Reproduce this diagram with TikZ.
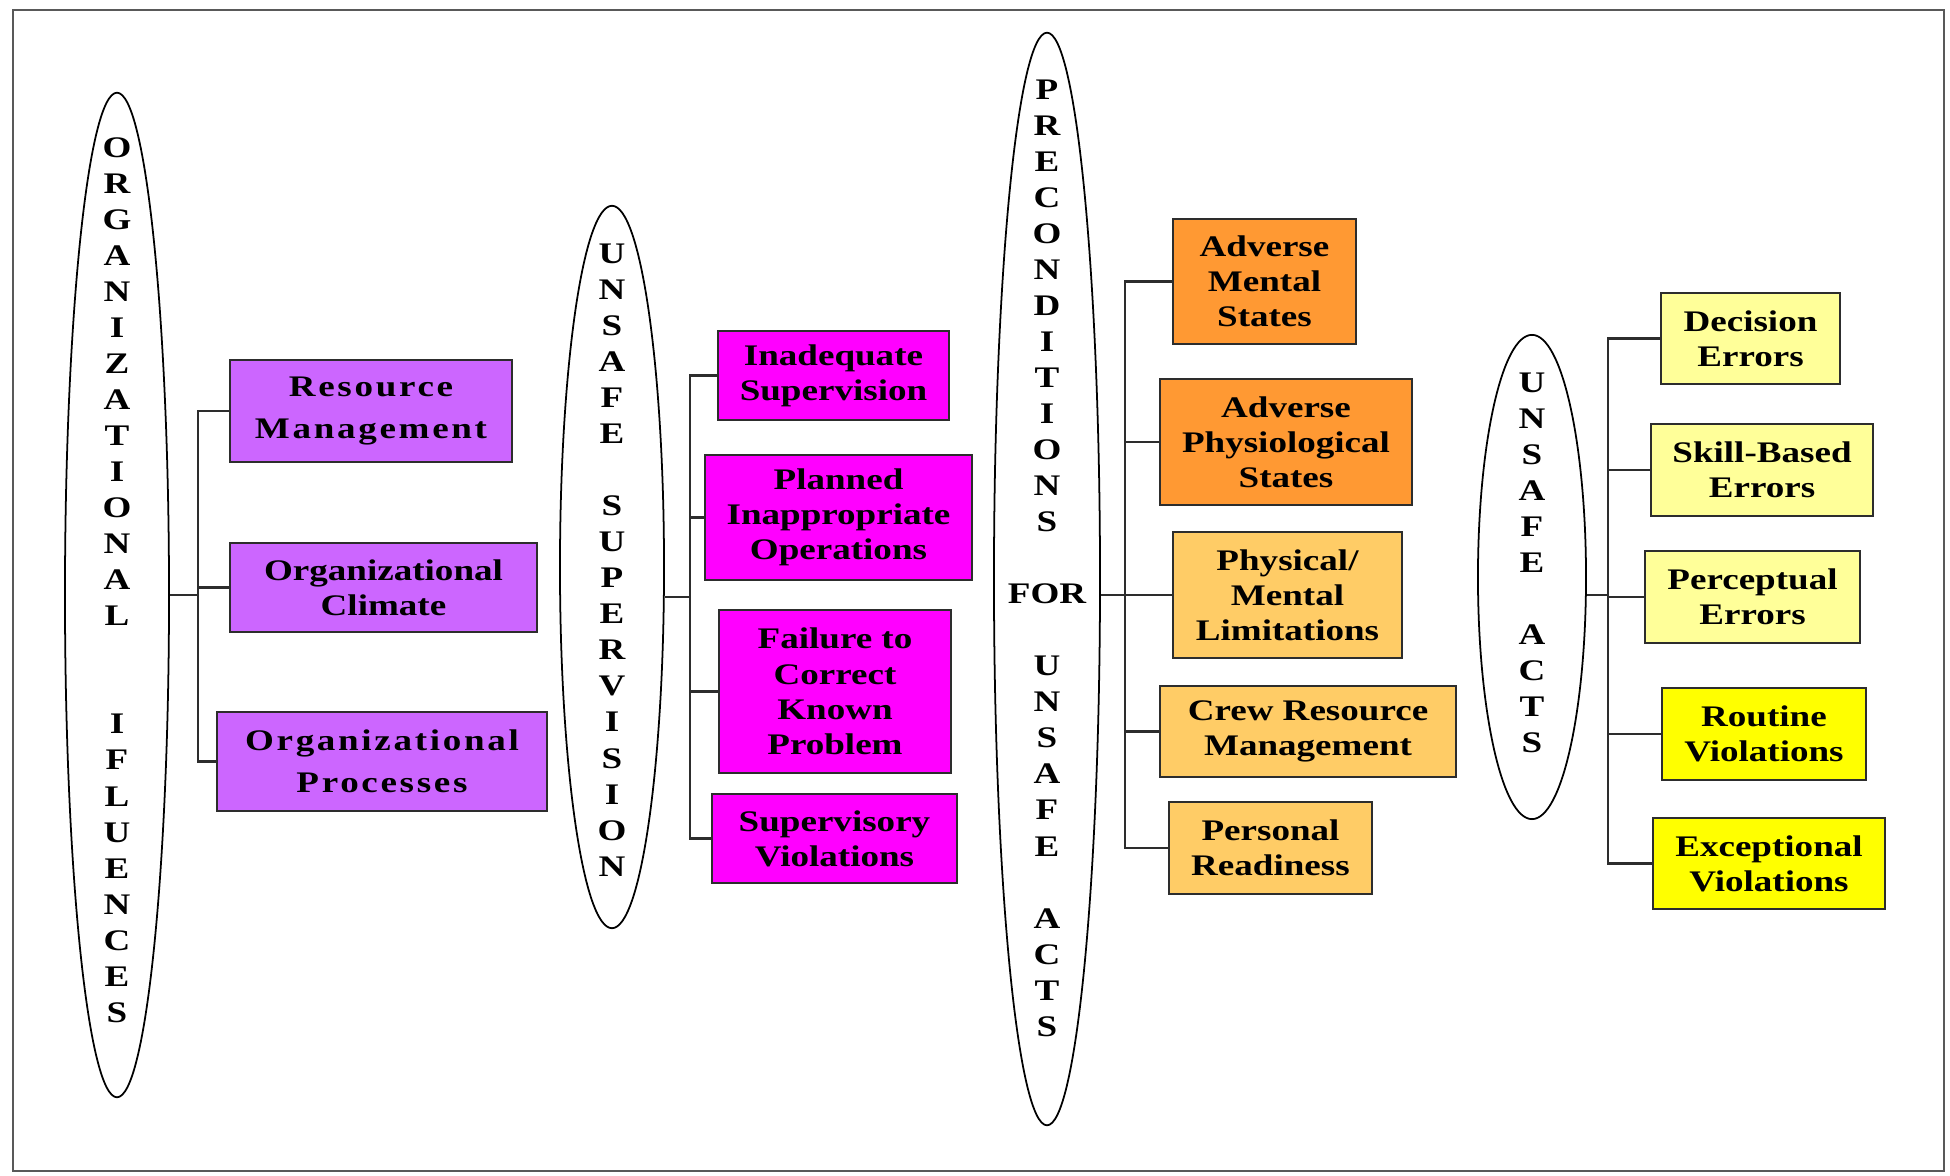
\documentclass[tikz,border=0pt]{standalone}
\usepackage{fontspec}
\setmainfont{Liberation Serif}[FakeStretch=1.24]
\usetikzlibrary{shapes.geometric}
\definecolor{orgPurple}{RGB}{204,102,255}
\definecolor{supMagenta}{RGB}{255,0,255}
\definecolor{preOrange}{RGB}{255,153,51}
\definecolor{preLight}{RGB}{255,204,102}
\definecolor{actPale}{RGB}{255,255,153}
\definecolor{actYellow}{RGB}{255,255,0}
\definecolor{lineGray}{RGB}{45,45,45}
\tikzset{
    box/.style={draw=lineGray,line width=0.7pt,rectangle,inner sep=1pt,align=center,
        font=\fontsize{8.5}{10}\selectfont\bfseries},
    widebox/.style={box,font=\fontsize{8.5}{12}\selectfont\bfseries\addfontfeature{LetterSpace=9}},
    oval/.style={draw=black,line width=0.5pt,ellipse,inner sep=0pt},
    vtext/.style={align=center,inner sep=0pt,font=\fontsize{8.5}{10.25}\selectfont\bfseries},
    link/.style={draw=lineGray,line width=0.6pt}
}
\begin{document}
\begin{tikzpicture}[x=0.01cm,y=-0.01cm]
    \useasboundingbox (0,0) rectangle (1950,1176);
    % frame
    \draw[gray!70!black,line width=0.7pt] (13,10) rectangle (1944,1171);

    % organizational influences
    \node[oval,minimum width=1.04cm,minimum height=10.04cm] (orgOval) at (117,595) {};
    \node[vtext] at (117,580) {O\\R\\G\\A\\N\\I\\Z\\A\\T\\I\\O\\N\\A\\L\\~\\~\\I\\F\\L\\U\\E\\N\\C\\E\\S};
    \node[widebox,fill=orgPurple,minimum width=2.82cm,minimum height=1.02cm] (resMgmt) at (371,411) {Resource\\Management};
    \node[box,fill=orgPurple,minimum width=3.07cm,minimum height=0.89cm] (orgClim) at (383.5,587.5) {Organizational\\Climate};
    \node[widebox,fill=orgPurple,minimum width=3.30cm,minimum height=0.99cm] (orgProc) at (382,761.5) {Organizational\\Processes};
    \coordinate (busA) at (198,595);
    \draw[link] (orgOval.east) -- (busA);
    \foreach \b in {resMgmt,orgClim,orgProc}
        \draw[link] (busA) |- (\b.west);

    % unsafe supervision
    \node[oval,minimum width=1.04cm,minimum height=7.22cm] (supOval) at (612,567) {};
    \node[vtext] at (612,560) {U\\N\\S\\A\\F\\E\\~\\S\\U\\P\\E\\R\\V\\I\\S\\I\\O\\N};
    \node[box,fill=supMagenta,minimum width=2.31cm,minimum height=0.89cm] (inadSup) at (833.5,375.5) {Inadequate\\Supervision};
    \node[box,fill=supMagenta,minimum width=2.67cm,minimum height=1.25cm] (planOps) at (838.5,517.5) {Planned\\Inappropriate\\Operations};
    \node[box,fill=supMagenta,minimum width=2.32cm,minimum height=1.63cm] (failCorr) at (835,691.5) {Failure to\\Correct\\Known\\Problem};
    \node[box,fill=supMagenta,minimum width=2.45cm,minimum height=0.89cm] (supViol) at (834.5,838.5) {Supervisory\\Violations};
    \coordinate (busB) at (690,597);
    \draw[link] (busB -| supOval.east) -- (busB);
    \foreach \b in {inadSup,planOps,failCorr,supViol}
        \draw[link] (busB) |- (\b.west);

    % preconditions for unsafe acts
    \node[oval,minimum width=1.06cm,minimum height=10.92cm] (preOval) at (1047,579) {};
    \node[vtext] at (1047,558) {P\\R\\E\\C\\O\\N\\D\\I\\T\\I\\O\\N\\S\\~\\FOR\\~\\U\\N\\S\\A\\F\\E\\~\\A\\C\\T\\S};
    \node[box,fill=preOrange,minimum width=1.83cm,minimum height=1.25cm] (advMent) at (1264.5,281.5) {Adverse\\Mental\\States};
    \node[box,fill=preOrange,minimum width=2.52cm,minimum height=1.26cm] (advPhys) at (1286,442) {Adverse\\Physiological\\States};
    \node[box,fill=preLight,minimum width=2.29cm,minimum height=1.26cm] (physLim) at (1287.5,595) {Physical/\\Mental\\Limitations};
    \node[box,fill=preLight,minimum width=2.96cm,minimum height=0.91cm] (crewRes) at (1308,731.5) {Crew Resource\\Management};
    \node[box,fill=preLight,minimum width=2.03cm,minimum height=0.92cm] (persReady) at (1270.5,848) {Personal\\Readiness};
    \coordinate (busC) at (1125,595);
    \draw[link] (busC -| preOval.east) -- (busC);
    \foreach \b in {advMent,advPhys,physLim,crewRes,persReady}
        \draw[link] (busC) |- (\b.west);

    % unsafe acts
    \node[oval,minimum width=1.08cm,minimum height=4.84cm] (actOval) at (1532,577) {};
    \node[vtext] at (1532,563) {U\\N\\S\\A\\F\\E\\~\\A\\C\\T\\S};
    \node[box,fill=actPale,minimum width=1.79cm,minimum height=0.91cm] (decErr) at (1750.5,338.5) {Decision\\Errors};
    \node[box,fill=actPale,minimum width=2.22cm,minimum height=0.92cm] (skillErr) at (1762,470) {Skill-Based\\Errors};
    \node[box,fill=actPale,minimum width=2.15cm,minimum height=0.92cm] (percErr) at (1752.5,597) {Perceptual\\Errors};
    \node[box,fill=actYellow,minimum width=2.04cm,minimum height=0.92cm] (routViol) at (1764,734) {Routine\\Violations};
    \node[box,fill=actYellow,minimum width=2.32cm,minimum height=0.91cm] (excViol) at (1769,863.5) {Exceptional\\Violations};
    \coordinate (busD) at (1608,595);
    \draw[link] (busD -| actOval.east) -- (busD);
    \foreach \b in {decErr,skillErr,percErr,routViol,excViol}
        \draw[link] (busD) |- (\b.west);
\end{tikzpicture}
\end{document}
